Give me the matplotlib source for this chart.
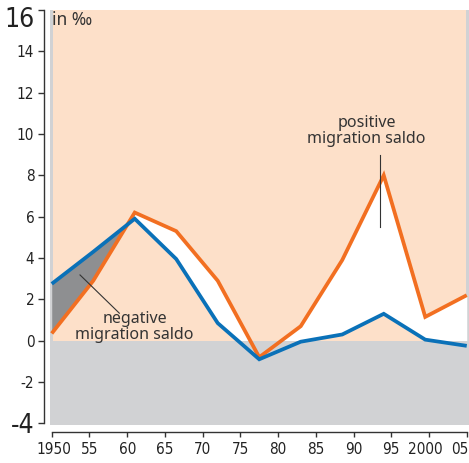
import matplotlib
matplotlib.use('Agg')
import matplotlib.pyplot as plt
import matplotlib.transforms as mtransforms
import numpy as np
from matplotlib import font_manager
from matplotlib.patches import Rectangle

# ---- data ----
years = [1950, 1955.5, 1961, 1966.5, 1972, 1977.5, 1983, 1988.5, 1994, 1999.5, 2005]
orange_vals = [0.35, 2.9, 6.2, 5.3, 2.9, -0.8, 0.7, 3.9, 8.0, 1.15, 2.2]
blue_vals = [2.75, 4.3, 5.9, 3.95, 0.85, -0.9, -0.05, 0.3, 1.3, 0.05, -0.25]
x_ticks = [1950, 1955, 1960, 1965, 1970, 1975, 1980, 1985, 1990, 1995, 2000, 2005]
x_labels = ['1950', '55', '60', '65', '70', '75', '80', '85', '90', '95', '2000', '05']
y_ticks = [-4, -2, 0, 2, 4, 6, 8, 10, 12, 14, 16]
y_labels = ['-4', '-2', '0', '2', '4', '6', '8', '10', '12', '14', '16']
unit_label = 'in ‰'
pos_label = 'positive\nmigration saldo'
neg_label = 'negative\nmigration saldo'

# ---- fonts ----
names = {f.name for f in font_manager.fontManager.ttflist}
if 'Liberation Sans Narrow' in names:
    tick_font = dict(family=['Liberation Sans Narrow', 'DejaVu Sans'])
else:
    tick_font = dict(family=['DejaVu Sans'], stretch='condensed')
ann_family = ['Noto Sans', 'DejaVu Sans']

# ---- colours ----
peach = '#fde0c9'
light_gray = '#d1d2d4'
dark_fill = '#8e8f91'
orange = '#f26f21'
blue = '#0a71b8'
ink = '#333333'

fig = plt.figure(figsize=(4.69, 4.63), dpi=100)
ax = fig.add_axes([50 / 469, 38 / 463, 419 / 469, 415 / 463])
ax.set_xlim(1949.77, 2005.3)
ax.set_ylim(-4.08, 16.0)
ax.set_facecolor(light_gray)

ax.add_patch(Rectangle((1950.15, 0), 2004.9 - 1950.15, 17, facecolor=peach,
                       edgecolor='none', zorder=0.5))

o = np.array(orange_vals)
b = np.array(blue_vals)
ax.fill_between(years, b, o, where=b >= o, interpolate=True,
                color=dark_fill, lw=0, zorder=1)
ax.fill_between(years, o, b, where=o >= b, interpolate=True,
                color='white', lw=0, zorder=1)
ax.axhspan(-6, 0, color=light_gray, lw=0, zorder=1.5)

ax.plot(years, orange_vals, color=orange, lw=2.7, zorder=3,
        solid_joinstyle='miter', solid_capstyle='butt')
ax.plot(years, blue_vals, color=blue, lw=2.7, zorder=3.1,
        solid_joinstyle='miter', solid_capstyle='butt')

# annotations
ax.plot([1993.51, 1993.51], [8.98, 5.5], color=ink, lw=0.8, zorder=4)
ax.plot([1953.75, 1958.96], [3.18, 1.33], color=ink, lw=0.8, zorder=4)
ax.text(1991.72, 10.14, pos_label, ha='center', va='center', fontsize=11.5,
        family=ann_family, color=ink, linespacing=1.0, zorder=5)
ax.text(1960.97, 0.66, neg_label, ha='center', va='center', fontsize=11.5,
        family=ann_family, color=ink, linespacing=0.95, zorder=5)
ax.text(1950.0, 15.5, unit_label, ha='left', va='center', fontsize=12.5,
        family=ann_family, color=ink, zorder=5)

# spines / axes
for s in ('top', 'right'):
    ax.spines[s].set_visible(False)
ax.spines['left'].set_position(('outward', 4.3))
ax.spines['left'].set_bounds(-4, 16)
ax.spines['bottom'].set_position(('outward', 5))
ax.spines['bottom'].set_bounds(1950, 2005)
for s in ('left', 'bottom'):
    ax.spines[s].set_color(ink)
    ax.spines[s].set_linewidth(1.0)

ax.set_xticks(x_ticks)
ax.set_xticklabels(x_labels)
ax.set_yticks(y_ticks)
ax.set_yticklabels(y_labels)
ax.tick_params(axis='y', direction='out', length=4.5, width=1, pad=2.5,
               colors=ink, labelcolor='#222222')
ax.tick_params(axis='x', direction='out', length=3.5, width=1, pad=4,
               colors=ink, labelcolor='#222222')
for lab in ax.get_xticklabels() + ax.get_yticklabels():
    lab.set_fontsize(11)
    lab.set_family(tick_font['family'])
    if 'stretch' in tick_font:
        lab.set_stretch(tick_font['stretch'])

def shift(lab, dx_px, dy_px):
    lab.set_transform(lab.get_transform() +
                      mtransforms.ScaledTranslation(dx_px / 100, dy_px / 100,
                                                    fig.dpi_scale_trans))

xlabs = ax.get_xticklabels()
shift(xlabs[0], 2, 0)
shift(xlabs[-2], -4, 0)
xlabs[-1].set_ha('right')
shift(xlabs[-1], 1.5, 0)

ylabs = ax.get_yticklabels()
ylabs[0].set_fontsize(19)
ylabs[-1].set_fontsize(19)
ylabs[-1].set_va('top')
shift(ylabs[-1], 0, 3)

fig.savefig('out.png', dpi=100)
